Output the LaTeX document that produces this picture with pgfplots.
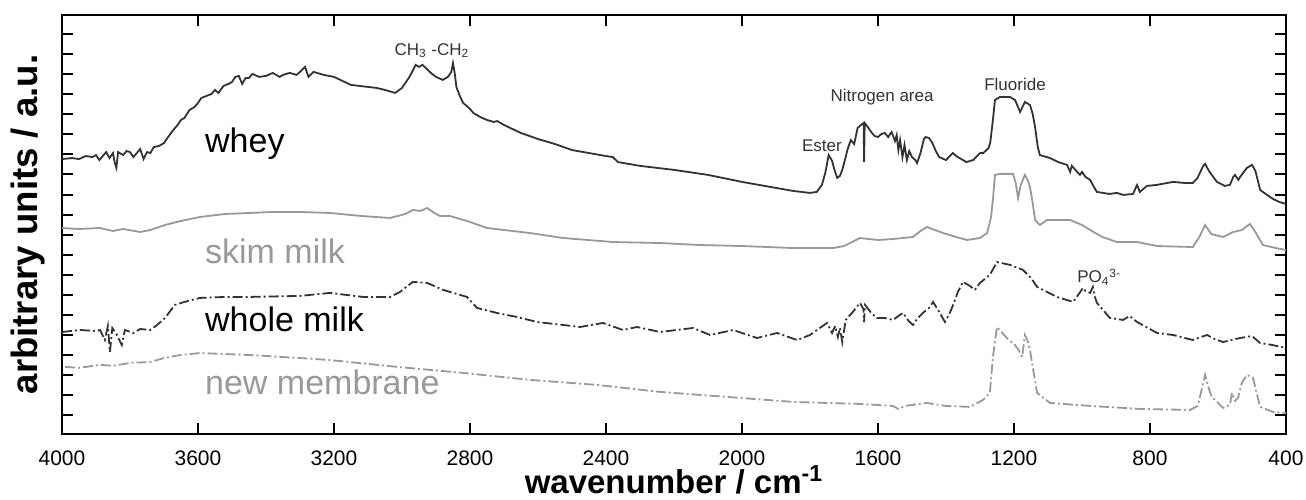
\documentclass[border=0pt]{standalone}
\usepackage{pgfplots}
\pgfplotsset{compat=1.18}
\usepackage{fontspec}
\setmainfont{Liberation Sans}
\definecolor{dk}{HTML}{333333}
\definecolor{lg}{HTML}{999999}
\begin{document}
\begin{tikzpicture}
\begin{axis}[
 scale only axis, width=612pt, height=209.5pt,
 x dir=reverse, xmin=400, xmax=4000, ymin=-0.95, ymax=19.96,
 xtick={400,800,...,4000}, ytick={0,1,...,19}, yticklabels={},
 tick pos=both, xticklabel pos=lower,
 tick align=inside, major tick length=5.5pt,
 every tick/.style={black, line width=1pt},
 axis line style={line width=1pt},
 xticklabel style={font=\fontsize{10.5}{12}\selectfont, anchor=base, yshift=-16pt, text depth=0pt},
 /pgf/number format/assume math mode=true,
 /pgf/number format/1000 sep={},
 clip=false,
]
\addplot[dk, line width=0.9pt] table {
4000 12.77
3970 12.82
3950 12.77
3930 12.92
3910 12.87
3900 12.97
3890 12.72
3880 12.92
3870 13.12
3860 12.82
3850 13.07
3845 12.60
3840 12.33
3835 13.12
3820 12.97
3810 13.17
3800 13.12
3790 12.87
3780 13.07
3770 13.27
3760 12.77
3750 13.12
3740 13.07
3730 13.37
3715 13.42
3700 13.57
3690 13.82
3675 14.17
3660 14.47
3650 14.72
3640 14.82
3625 15.22
3610 15.37
3600 15.57
3590 15.82
3575 15.92
3560 16.02
3550 16.22
3540 16.07
3525 16.42
3510 16.52
3500 16.62
3490 16.87
3480 16.92
3470 16.52
3460 16.82
3450 16.82
3440 17.02
3420 16.87
3400 16.92
3380 17.07
3360 16.87
3350 16.97
3330 17.07
3310 16.97
3300 17.12
3285 17.37
3275 16.87
3260 17.12
3250 17.07
3230 16.97
3200 16.87
3175 16.67
3150 16.47
3125 16.42
3100 16.37
3075 16.32
3050 16.22
3020 16.07
3000 16.32
2990 16.57
2980 16.82
2970 17.12
2960 17.47
2950 17.37
2940 17.47
2930 17.32
2915 17.07
2900 16.87
2880 16.72
2865 16.87
2855 17.12
2850 17.56
2845 17.07
2840 16.37
2830 15.92
2820 15.57
2800 15.27
2790 15.07
2770 14.87
2750 14.72
2730 14.62
2720 14.67
2700 14.47
2650 14.07
2600 13.77
2550 13.52
2500 13.22
2450 13.07
2400 12.92
2380 12.87
2365 12.62
2300 12.43
2200 12.23
2100 11.98
2000 11.63
1900 11.33
1850 11.18
1800 11.08
1780 11.13
1765 11.48
1755 12.08
1745 12.97
1735 12.68
1728 12.23
1720 11.83
1712 11.93
1705 12.23
1695 12.87
1690 13.22
1680 13.72
1670 13.52
1660 14.32
1650 14.47
1642 14.57
1641 12.62
1639 14.57
1630 14.37
1620 14.12
1610 13.92
1600 13.87
1590 14.02
1580 14.07
1570 13.87
1560 14.12
1550 13.67
1545 13.97
1540 13.22
1535 13.72
1528 12.87
1522 13.47
1515 12.72
1508 13.17
1500 12.87
1490 12.72
1485 12.57
1475 13.07
1465 13.77
1460 13.87
1450 13.82
1440 13.57
1430 13.17
1420 12.87
1400 12.72
1380 13.07
1370 12.92
1360 12.82
1340 12.62
1320 12.72
1300 13.07
1290 13.07
1275 13.32
1270 13.57
1262 14.72
1256 15.72
1241 15.87
1212 15.87
1197 15.72
1182 15.12
1168 15.62
1153 15.47
1145 15.02
1138 14.37
1130 13.37
1124 12.97
1094 12.82
1070 12.62
1044 12.48
1035 12.13
1030 12.43
1006 11.98
1000 12.13
990 11.88
976 11.73
965 11.38
956 11.13
920 11.03
897 11.08
879 10.98
850 11.03
838 11.48
830 11.13
809 11.43
780 11.48
732 11.63
700 11.58
674 11.58
660 11.83
645 12.38
638 12.53
625 12.13
603 11.63
580 11.43
565 11.48
555 11.88
550 11.98
540 11.73
535 11.88
515 12.33
500 12.48
490 12.18
476 11.23
460 11.03
438 10.78
420 10.63
400 10.53
};
\addplot[lg, line width=0.9pt] table {
4000 9.33
3950 9.28
3888 9.33
3850 9.18
3820 9.28
3771 9.13
3740 9.23
3697 9.48
3650 9.68
3594 9.88
3520 10.03
3447 10.08
3380 10.13
3300 10.13
3212 10.08
3120 9.93
3035 9.83
2990 10.03
2968 10.23
2945 10.18
2926 10.33
2905 10.08
2888 9.93
2859 9.93
2800 9.63
2750 9.33
2624 9.08
2526 8.83
2379 8.63
2241 8.58
2124 8.48
2000 8.43
1850 8.33
1732 8.33
1700 8.43
1653 8.83
1600 8.73
1556 8.78
1497 8.88
1475 9.18
1456 9.38
1440 9.28
1409 9.08
1370 8.88
1338 8.73
1300 8.83
1279 9.08
1268 9.83
1262 10.73
1256 11.98
1241 12.03
1203 12.03
1195 11.58
1188 10.83
1180 11.48
1168 11.98
1160 11.73
1153 11.38
1145 10.58
1138 9.73
1124 9.48
1103 9.73
1035 9.73
1000 9.48
976 9.23
940 8.88
897 8.63
838 8.63
779 8.43
674 8.38
655 8.88
638 9.48
620 9.03
585 8.88
556 9.13
530 9.23
506 9.53
490 9.13
468 8.48
430 8.33
400 8.23
};
\addplot[dk, line width=0.9pt, dash pattern=on 5pt off 1.5pt on 1pt off 1.5pt] table {
4000 4.14
3947 4.24
3900 4.19
3888 4.24
3874 3.74
3865 4.44
3859 3.14
3852 4.34
3840 4.04
3824 3.49
3815 4.24
3790 4.09
3770 4.29
3741 4.24
3720 4.49
3697 4.84
3668 5.49
3640 5.64
3594 5.84
3520 5.89
3447 5.89
3300 5.94
3212 6.09
3115 5.89
3035 5.89
3006 6.14
2968 6.64
2926 6.59
2879 6.24
2809 5.89
2779 5.34
2721 5.09
2662 4.89
2603 4.64
2526 4.49
2476 4.39
2409 4.59
2350 4.24
2309 4.39
2241 4.14
2144 4.34
2094 3.99
2026 4.24
1956 3.84
1897 4.09
1838 3.74
1800 3.99
1750 4.59
1735 4.09
1726 4.44
1718 3.89
1712 4.34
1705 3.64
1695 4.74
1674 5.14
1653 5.59
1643 5.29
1641 4.64
1638 5.49
1620 5.09
1603 4.84
1580 4.84
1556 4.74
1540 4.94
1526 5.09
1510 4.69
1497 4.49
1485 4.79
1468 5.09
1450 5.34
1438 5.64
1420 5.14
1403 4.64
1390 5.04
1379 5.49
1365 6.14
1350 6.64
1330 6.44
1315 6.24
1300 6.59
1271 6.99
1250 7.63
1212 7.49
1174 7.24
1150 6.84
1132 6.39
1074 5.89
1026 5.64
1005 6.14
997 6.34
990 6.19
976 6.09
968 6.39
962 5.89
956 5.59
918 4.84
879 4.74
860 4.94
838 4.64
779 4.09
732 3.99
674 3.74
650 3.89
632 3.99
610 3.79
585 3.64
535 3.84
500 3.94
476 3.59
440 3.49
400 3.34
};
\addplot[lg, line width=0.9pt, dash pattern=on 5pt off 1.5pt on 1pt off 1.5pt] table {
3991 2.40
3950 2.35
3888 2.50
3850 2.45
3800 2.60
3741 2.64
3700 2.84
3653 2.99
3594 3.09
3520 3.04
3447 2.99
3300 2.84
3212 2.74
3015 2.40
2821 2.10
2624 1.75
2426 1.50
2241 1.15
2044 0.90
1850 0.65
1653 0.55
1556 0.45
1540 0.30
1520 0.45
1456 0.60
1400 0.45
1329 0.40
1291 0.75
1271 1.10
1262 2.90
1250 4.39
1235 4.10
1221 3.84
1197 3.49
1185 3.20
1176 2.89
1168 3.99
1160 3.70
1153 3.24
1145 2.40
1132 1.10
1094 0.60
976 0.45
829 0.30
682 0.25
660 0.45
653 0.90
638 2.00
625 1.20
618 0.90
585 0.35
565 0.50
559 1.10
550 0.70
541 0.85
530 1.60
515 2.00
497 1.85
485 1.00
476 0.40
438 0.15
400 0.10
};
\node[anchor=base west, inner sep=0pt, font=\fontsize{17}{20}\selectfont, text=black] at (axis cs:3580,13.12) {whey};
\node[anchor=base west, inner sep=0pt, font=\fontsize{17}{20}\selectfont, text=lg] at (axis cs:3580,7.58) {skim milk};
\node[anchor=base west, inner sep=0pt, font=\fontsize{17}{20}\selectfont, text=black] at (axis cs:3580,4.14) {whole milk};
\node[anchor=base west, inner sep=0pt, font=\fontsize{17}{20}\selectfont, text=lg] at (axis cs:3580,1.0) {new membrane};
\node[anchor=base, font=\fontsize{8.5}{10}\selectfont, text=dk] at (axis cs:2912,17.96) {CH\textsubscript{3} -CH\textsubscript{2}};
\node[anchor=base, font=\fontsize{8.5}{10}\selectfont, text=dk] at (axis cs:1588,15.62) {Nitrogen area};
\node[anchor=base, font=\fontsize{8.5}{10}\selectfont, text=dk] at (axis cs:1765,13.17) {Ester};
\node[anchor=base, font=\fontsize{8.5}{10}\selectfont, text=dk] at (axis cs:1197,16.17) {Fluoride};
\node[anchor=base west, inner sep=0pt, font=\fontsize{8.5}{10}\selectfont, text=dk] at (axis cs:1015,6.59) {PO\textsubscript{4}\textsuperscript{3-}};
\end{axis}
\node[anchor=base, inner sep=0pt, text height=12pt, text depth=0pt, font=\bfseries\fontsize{16.5}{20}\selectfont] at ([yshift=-30pt]current axis.south) {wavenumber / cm\textsuperscript{-1}};
\node[rotate=90, anchor=center, font=\bfseries\fontsize{18.3}{21}\selectfont] at ([xshift=-17pt]current axis.west) {arbitrary units / a.u.};
\pgfresetboundingbox
\path ([xshift=-31pt,yshift=-33pt]current axis.south west) rectangle ([xshift=10pt,yshift=7.5pt]current axis.north east);
\end{tikzpicture}
\end{document}
